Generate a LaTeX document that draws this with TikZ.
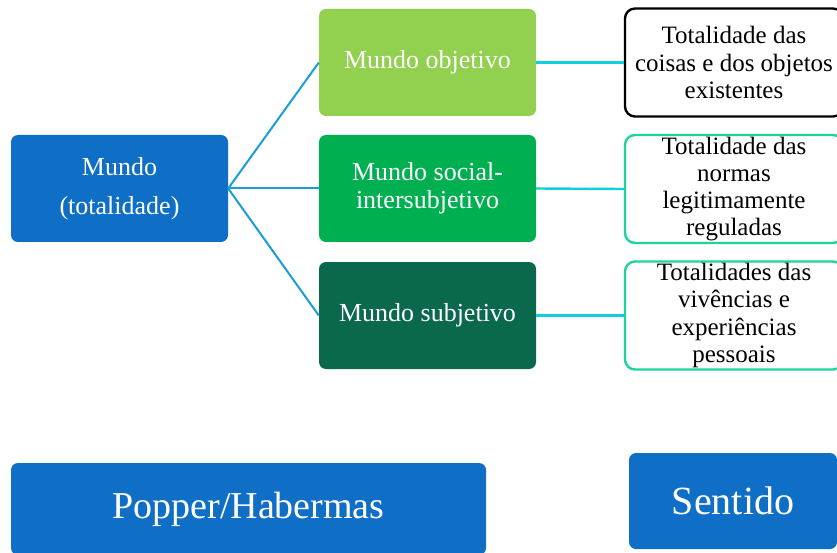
\documentclass[tikz,border=0pt]{standalone}
\usepackage{fontspec}
\setmainfont{Liberation Serif}
\definecolor{mblue}{HTML}{0F6FC6}
\definecolor{lgreen}{HTML}{92D050}
\definecolor{mgreen}{HTML}{00B050}
\definecolor{dgreen}{HTML}{0A684C}
\definecolor{tealb}{HTML}{1FD39C}
\definecolor{lineA}{HTML}{1A9ED9}
\definecolor{lineB}{HTML}{0FCFDF}
\begin{document}
\begin{tikzpicture}[x=1pt,y=-1pt,
  cbox/.style={rounded corners=7pt,minimum width=217pt,minimum height=107pt,
    text=white,align=center,inner sep=0pt,font=\fontsize{26}{28}\selectfont},
  tbox/.style={rounded corners=10pt,minimum width=218pt,minimum height=108pt,
    line width=2.4pt,fill=white,align=center,inner sep=0pt,font=\fontsize{25}{27.3}\selectfont},
  conA/.style={draw=lineA,line width=2pt},
  conB/.style={draw=lineB,line width=2.4pt}]
\clip (0,0) rectangle (837,553);
\fill[white] (0,0) rectangle (837,553);
\node[cbox,fill=mblue] (mundo) at (119.5,188.5) {Mundo\\[11pt](totalidade)};
\node[cbox,fill=lgreen] (obj) at (427.5,62.5) {Mundo objetivo};
\node[cbox,fill=mgreen] (soc) at (427.5,188.5) {Mundo social-\\intersubjetivo};
\node[cbox,fill=dgreen] (sub) at (427.5,315.5) {Mundo subjetivo};
\node[tbox,draw=black] (t1) at (734,62.5) {Totalidade das\\coisas e dos objetos\\existentes};
\node[tbox,draw=tealb] (t2) at (734,189) {Totalidade das\\normas\\legitimamente\\reguladas};
\node[tbox,draw=tealb] (t3) at (734,315.5) {Totalidades das\\vivências e\\experiências\\pessoais};
\node[cbox,fill=mblue,minimum width=475pt,minimum height=92pt,font=\fontsize{38}{40}\selectfont] (pop) at (248.5,509) {Popper/Habermas};
\node[cbox,fill=mblue,minimum width=208pt,minimum height=96pt,font=\fontsize{40}{42}\selectfont] (sen) at (733,501) {Sentido};
\draw[conA] (mundo.east) -- (obj.west);
\draw[conA] (mundo.east) -- (soc.west);
\draw[conA] (mundo.east) -- (sub.west);
\draw[conB] (obj.east) -- (t1.west);
\draw[conB] (soc.east) -- (t2.west);
\draw[conB] (sub.east) -- (t3.west);
\end{tikzpicture}
\end{document}
